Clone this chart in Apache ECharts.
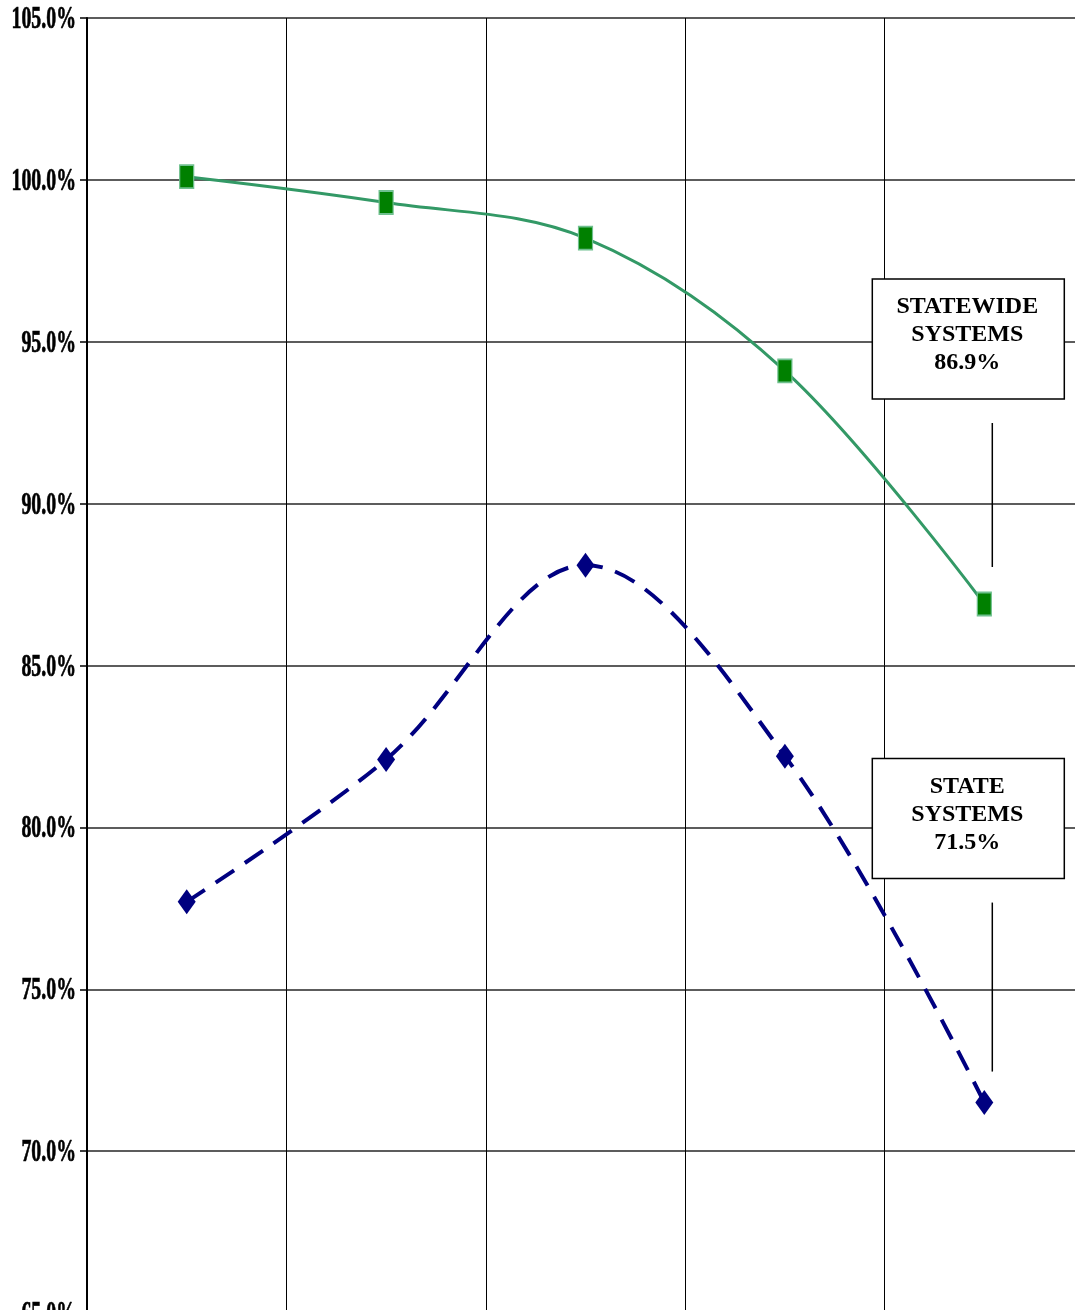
<!DOCTYPE html>
<html>
<head>
<meta charset="utf-8">
<script src="https://cdn.jsdelivr.net/npm/echarts@6/dist/echarts.min.js"></script>
<style>
  html, body { margin: 0; padding: 0; background: #ffffff; overflow: hidden; }
  /* The plot runs a few pixels past the right and bottom edges of the page */
  #chart { width: 1084px; height: 1313px; }
</style>
</head>
<body>
<div id="chart"></div>
<script>
// Periods along the horizontal axis (their labels fall below the visible area)
const categories = ['Period 1', 'Period 2', 'Period 3', 'Period 4', 'Period 5'];
// Percent values for each series
const statewideSystems = [100.1, 99.3, 98.2, 94.1, 86.9];
const stateSystems = [77.7, 82.1, 88.1, 82.2, 71.5];
// Value-axis ticks
const yTicks = [65, 70, 75, 80, 85, 90, 95, 100, 105];
// Callout titles
const statewideTitle = 'STATEWIDE\nSYSTEMS';
const stateTitle = 'STATE\nSYSTEMS';

const chart = echarts.init(document.getElementById('chart'), null, { renderer: 'canvas' });

chart.setOption({
  animation: false,
  backgroundColor: '#ffffff',
  grid: { left: 87, top: 18, right: 0, bottom: 0, containLabel: false },
  xAxis: {
    type: 'category',
    data: categories,
    boundaryGap: true,
    axisLine: { show: true, lineStyle: { color: '#000', width: 2 } },
    axisTick: { show: false },
    axisLabel: { show: false },
    splitLine: { show: true, interval: 0, lineStyle: { color: '#000', width: 1 } }
  },
  yAxis: {
    type: 'value',
    min: yTicks[0],
    max: yTicks[yTicks.length - 1],
    interval: 5,
    axisLine: { show: true, onZero: false, lineStyle: { color: '#000', width: 2 } },
    axisTick: { show: true, inside: false, length: 7, lineStyle: { color: '#000', width: 1.5 } },
    axisLabel: { show: false },
    splitLine: { show: true, lineStyle: { color: '#262626', width: 1.5 } }
  },
  series: [
    {
      name: 'STATEWIDE SYSTEMS',
      type: 'line',
      data: statewideSystems,
      smooth: 0.35,
      symbol: 'rect',
      symbolSize: [14, 23],
      showAllSymbol: true,
      lineStyle: { color: '#339966', width: 3 },
      itemStyle: { color: '#008000', borderColor: '#6fc08f', borderWidth: 1.5 },
      z: 3
    },
    {
      name: 'STATE SYSTEMS',
      type: 'line',
      data: stateSystems,
      smooth: 0.35,
      symbol: 'diamond',
      symbolSize: [18, 25],
      showAllSymbol: true,
      lineStyle: { color: '#000080', width: 4, type: [22, 13] },
      itemStyle: { color: '#000080', borderWidth: 0 },
      z: 3
    }
  ]
});

// Condensed bold tick labels placed through the value axis scale
const graphics = [];
yTicks.forEach(function (v) {
  const y = chart.convertToPixel({ yAxisIndex: 0 }, v);
  graphics.push({
    type: 'text',
    x: 76,
    y: y + 2,
    scaleX: 0.64,
    silent: true,
    style: {
      text: v.toFixed(1) + '%',
      font: 'bold 31px "Liberation Serif", "Times New Roman", serif',
      fill: '#000',
      stroke: '#000',
      lineWidth: 0.7,
      align: 'right',
      verticalAlign: 'middle'
    }
  });
});

// Boxed callouts with a leader line above the last point of each series
function callout(title, values, dx, dyTop, lineTop, lineBottom) {
  const last = values.length - 1;
  const p = chart.convertToPixel({ xAxisIndex: 0, yAxisIndex: 0 }, [last, values[last]]);
  const left = p[0] + dx;
  const top = p[1] + dyTop;
  graphics.push({
    type: 'rect',
    shape: { x: left, y: top, width: 192, height: 120 },
    style: { fill: '#fff', stroke: '#000', lineWidth: 1.5 },
    z: 10,
    silent: true
  });
  graphics.push({
    type: 'text',
    x: left + 95,
    y: top + 56,
    z: 11,
    silent: true,
    style: {
      text: title + '\n' + values[last].toFixed(1) + '%',
      font: 'bold 24px "Liberation Serif", "Times New Roman", serif',
      lineHeight: 28,
      fill: '#000',
      align: 'center',
      verticalAlign: 'middle'
    }
  });
  graphics.push({
    type: 'line',
    shape: { x1: p[0] + 8, y1: p[1] + lineTop, x2: p[0] + 8, y2: p[1] + lineBottom },
    style: { stroke: '#000', lineWidth: 1.5 },
    z: 10,
    silent: true
  });
}
callout(statewideTitle, statewideSystems, -112, -325, -181, -37);
callout(stateTitle, stateSystems, -112, -344, -200, -31);

chart.setOption({ graphic: graphics });
</script>
</body>
</html>
